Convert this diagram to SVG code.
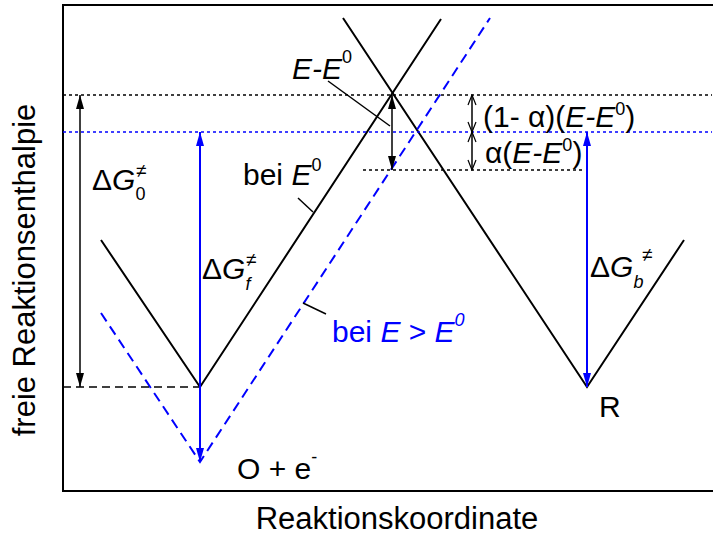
<svg xmlns="http://www.w3.org/2000/svg" width="713" height="543" viewBox="0 0 713 543">
<style>
text{font-family:"Liberation Sans",Arial,sans-serif;font-size:30px;fill:#000}
.axis{font-size:31px}
.blue{fill:#0000ff}
.it{font-style:italic}
.sup{font-size:18px}
.ne{font-size:19px}
.solid{fill:none;stroke:#000;stroke-width:2}
.dash{fill:none;stroke:#0000ff;stroke-width:2;stroke-dasharray:10 6}
.kdash{fill:none;stroke:#000;stroke-width:1.5;stroke-dasharray:8 5}
.kdot{fill:none;stroke:#000;stroke-width:1.5;stroke-dasharray:3 3}
.bdot{fill:none;stroke:#0000ff;stroke-width:1.5;stroke-dasharray:3 3}
.arr{fill:none;stroke:#000;stroke-width:1.5}
.barr{fill:none;stroke:#0000ff;stroke-width:2}
.lead{fill:none;stroke:#000;stroke-width:1.5}
</style>
<defs>
<marker id="ah" viewBox="0 0 14 8" markerWidth="14" markerHeight="8" refX="14" refY="4" orient="auto-start-reverse" markerUnits="userSpaceOnUse"><path d="M0,0 L14,4 L0,8 z" fill="#000"/></marker>
<marker id="ahb" viewBox="0 0 14 8" markerWidth="14" markerHeight="8" refX="14" refY="4" orient="auto-start-reverse" markerUnits="userSpaceOnUse"><path d="M0,0 L14,4 L0,8 z" fill="#0000ff"/></marker>
<marker id="open" viewBox="-1 -1 12 10" markerWidth="12" markerHeight="10" refX="10" refY="4" orient="auto-start-reverse" markerUnits="userSpaceOnUse"><path d="M0,0 L10,4 L0,8" fill="none" stroke="#000" stroke-width="1.2"/></marker>
</defs>

<g id="frame">
<path class="solid" d="M715,5 H63 V491 H715"/>
</g>

<g id="curves">
<path id="curve-O-E0" class="solid" d="M101,240 L200,387 L441,19"/>
<path id="curve-R" class="solid" d="M343,18 L587,387 L684,240"/>
<path id="curve-O-E" class="dash" d="M101,313 L200,462 L490,18"/>
</g>

<g id="connectors">
<line class="kdot" x1="63" y1="95" x2="712" y2="95"/>
<line class="bdot" x1="63" y1="132" x2="712" y2="132"/>
<line class="kdot" x1="363" y1="170" x2="585" y2="170"/>
<line class="kdash" x1="63" y1="387" x2="200" y2="387"/>
<line class="arr" x1="80" y1="95" x2="80" y2="387" marker-start="url(#ah)" marker-end="url(#ah)"/>
<line class="barr" x1="200" y1="132" x2="200" y2="462" marker-start="url(#ahb)" marker-end="url(#ahb)"/>
<line class="barr" x1="587" y1="132" x2="587" y2="387" marker-start="url(#ahb)" marker-end="url(#ahb)"/>
<line class="arr" x1="392" y1="95" x2="392" y2="170" marker-start="url(#ah)" marker-end="url(#ah)"/>
<line class="arr" x1="472" y1="95" x2="472" y2="132" marker-start="url(#open)" marker-end="url(#open)"/>
<line class="arr" x1="472" y1="132" x2="472" y2="170" marker-start="url(#open)" marker-end="url(#open)"/>
<line class="lead" x1="328" y1="81" x2="390" y2="126"/>
<line class="lead" x1="298" y1="198" x2="313" y2="212"/>
<line class="lead" x1="303" y1="303" x2="326" y2="314"/>
</g>

<g id="label-EE0"><text x="292" y="79"><tspan class="it">E-E</tspan><tspan class="sup" dy="-16">0</tspan></text></g>
<g id="label-beiE0"><text x="243" y="185">bei <tspan class="it">E</tspan><tspan class="sup" dy="-14">0</tspan></text></g>
<g id="label-beiE"><text class="blue" x="332" y="342">bei <tspan class="it">E</tspan> &gt; <tspan class="it">E</tspan><tspan class="sup it" dy="-16">0</tspan></text></g>
<g id="label-1ma"><text x="483" y="127">(1- α)(<tspan class="it">E-E</tspan><tspan class="sup" dy="-12">0</tspan><tspan dy="12">)</tspan></text></g>
<g id="label-a"><text x="485" y="163">α(<tspan class="it">E-E</tspan><tspan class="sup" dy="-12">0</tspan><tspan dy="12">)</tspan></text></g>
<g id="label-G0"><text x="92" y="190">Δ<tspan class="it">G</tspan><tspan class="sup" dy="10">0</tspan></text><text class="ne" x="136" y="177">≠</text></g>
<g id="label-Gf"><text x="202" y="279">Δ<tspan class="it">G</tspan><tspan class="sup it" dy="11">f</tspan></text><text class="ne" x="246" y="266">≠</text></g>
<g id="label-Gb"><text x="590" y="277">Δ<tspan class="it">G</tspan><tspan class="sup it" dy="11">b</tspan></text><text class="ne" x="642" y="261">≠</text></g>
<g id="label-R"><text x="599" y="417">R</text></g>
<g id="label-O"><text x="237" y="479">O + e<tspan class="sup" dy="-16">-</tspan></text></g>
<g id="axis-y"><text class="axis" x="35" y="270" text-anchor="middle" transform="rotate(-90 35 270)">freie Reaktionsenthalpie</text></g>
<g id="axis-x"><text class="axis" x="397" y="529" text-anchor="middle">Reaktionskoordinate</text></g>
</svg>
